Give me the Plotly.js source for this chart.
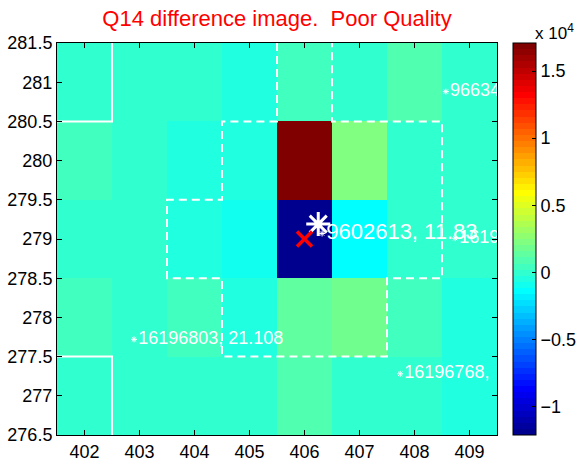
<!DOCTYPE html>
<html>
<head>
<meta charset="utf-8">
<script src="https://cdn.plot.ly/plotly-3.0.1.min.js"></script>
<style>html,body{margin:0;padding:0;background:#fff;}#chart{width:577px;height:462px;}</style>
</head>
<body>
<div id="chart"></div>
<script>
// ---- data ----
const columns = [402, 403, 404, 405, 406, 407, 408, 409];
const rows = [277, 278, 279, 280, 281];
const row277 = [-80, 40, 10, -30, 870, 90, -50, -490];
const row278 = [390, 50, 430, -480, 1350, 1790, 420, -440];
const row279 = [30, -70, -450, -930, -12130, -1390, -100, 10];
const row280 = [450, -20, -500, -520, 17090, 2260, 80, -60];
const row281 = [-40, 60, -90, -470, 410, 20, 900, -10];

const cbTickVals = [-10000, -5000, 0, 5000, 10000, 15000];
const cbTickText = ['\u22121', '\u22120.5', '0', '0.5', '1', '1.5'];

const solidX = [401.5, 402.5, 402.5, null, 401.5, 402.5, 402.5];
const solidY = [280.5, 280.5, 281.5, null, 277.5, 277.5, 276.5];

const regionX = [405.5, 405.5, 404.5, 404.5, 403.5, 403.5, 404.5, 404.5, 407.5, 407.5, 408.5, 408.5, 406.5, 406.5];
const regionY = [281.5, 280.5, 280.5, 279.5, 279.5, 278.5, 278.5, 277.5, 277.5, 278.5, 278.5, 280.5, 280.5, 281.5];

const labelX = [408.57, 408.74, 402.9, 407.74];
const labelY = [280.88, 279.01, 277.72, 277.28];
const labelText = ['96634', '16196790', '16196803, 21.108', '16196768,'];

const mainLabelX = [406.32];
const mainLabelY = [279.07];
const mainLabelText = ['9602613, 11.83'];

const targetX = [406.25];
const targetY = [279.19];

const centroidX = [406];
const centroidY = [279];

// ---- MATLAB jet(64) colormap ----
function jet64() {
  const n = 64, m = 16;
  const u = [];
  for (let i = 1; i <= m; i++) u.push(i / m);
  for (let i = 1; i <= m - 1; i++) u.push(1);
  for (let i = m; i >= 1; i--) u.push(i / m);
  const J = [];
  for (let k = 0; k < n; k++) J.push([0, 0, 0]);
  const g0 = Math.ceil(m / 2) - (n % 4 === 1 ? 1 : 0);
  for (let j = 0; j < u.length; j++) {
    const g = g0 + j + 1, r = g + m, b = g - m;
    if (r >= 1 && r <= n) J[r - 1][0] = u[j];
    if (g >= 1 && g <= n) J[g - 1][1] = u[j];
    if (b >= 1 && b <= n) J[b - 1][2] = u[j];
  }
  const cs = [];
  J.forEach((c, i) => {
    const col = 'rgb(' + c.map(v => Math.round(v * 255)).join(',') + ')';
    cs.push([i / n, col]);
    cs.push([(i + 1) / n, col]);
  });
  return cs;
}

const font = 'Liberation Sans, Arial, Helvetica, sans-serif';

const traces = [
  {
    type: 'heatmap',
    x: columns,
    y: rows,
    z: [row277, row278, row279, row280, row281],
    colorscale: jet64(),
    zsmooth: false,
    hoverinfo: 'skip',
    colorbar: {
      thickness: 23, thicknessmode: 'pixels',
      len: 1, lenmode: 'fraction',
      x: 1.0364, xanchor: 'left', y: 0.5, yanchor: 'middle',
      xpad: 0, ypad: 0,
      outlinewidth: 1, outlinecolor: '#000',
      tickmode: 'array', tickvals: cbTickVals, ticktext: cbTickText,
      ticks: 'inside', ticklen: 4, tickwidth: 1, tickcolor: '#000',
      tickfont: {family: font, size: 18, color: '#000'}
    }
  },
  {
    type: 'scatter', mode: 'lines', x: solidX, y: solidY,
    line: {color: '#fff', width: 2}, showlegend: false, hoverinfo: 'skip'
  },
  {
    type: 'scatter', mode: 'lines', x: regionX, y: regionY,
    line: {color: '#fff', width: 2, dash: '8px,5px'}, showlegend: false, hoverinfo: 'skip'
  },
  {
    type: 'scatter', mode: 'markers+text', x: labelX, y: labelY, text: labelText,
    textposition: 'middle right',
    textfont: {family: font, size: 18, color: '#fff'},
    marker: {symbol: 'asterisk-open', size: 5, line: {color: '#fff', width: 1}, color: '#fff'},
    cliponaxis: true, showlegend: false, hoverinfo: 'skip'
  },
  {
    type: 'scatter', mode: 'markers', x: targetX, y: targetY,
    marker: {symbol: 'asterisk-open', size: 20, line: {color: '#fff', width: 3}, color: '#fff'},
    cliponaxis: true, showlegend: false, hoverinfo: 'skip'
  },
  {
    type: 'scatter', mode: 'markers+text', x: mainLabelX, y: mainLabelY, text: mainLabelText,
    textposition: 'middle right',
    textfont: {family: font, size: 22, color: '#fff'},
    marker: {symbol: 'asterisk-open', size: 5, line: {color: '#fff', width: 1}, color: '#fff'},
    cliponaxis: true, showlegend: false, hoverinfo: 'skip'
  },
  {
    type: 'scatter', mode: 'markers', x: centroidX, y: centroidY,
    marker: {symbol: 'x-thin-open', size: 15, line: {color: '#ff0000', width: 3.5}, color: '#ff0000'},
    cliponaxis: true, showlegend: false, hoverinfo: 'skip'
  }
];

const layout = {
  width: 577, height: 462,
  margin: {l: 57, r: 80, t: 43, b: 27, pad: 0, autoexpand: false},
  paper_bgcolor: '#fff', plot_bgcolor: '#fff',
  font: {family: font, size: 18, color: '#000'},
  showlegend: false,
  title: {
    text: 'Q14 difference image.\u00a0 Poor Quality',
    font: {family: font, size: 22, color: '#ff0000'},
    x: 0.5, xref: 'paper', xanchor: 'center',
    y: 1 - 18 / 462, yref: 'container', yanchor: 'middle'
  },
  xaxis: {
    range: [401.5, 409.5], tickmode: 'array', tickvals: columns,
    ticks: 'inside', ticklen: 5, tickwidth: 1, tickcolor: '#000',
    showline: true, linecolor: '#000', linewidth: 1, mirror: 'ticks',
    showgrid: false, zeroline: false, automargin: false,
    tickfont: {family: font, size: 18, color: '#000'}
  },
  yaxis: {
    range: [276.5, 281.5], tickmode: 'linear', tick0: 276.5, dtick: 0.5,
    ticks: 'inside', ticklen: 5, tickwidth: 1, tickcolor: '#000',
    showline: true, linecolor: '#000', linewidth: 1, mirror: 'ticks',
    showgrid: false, zeroline: false, automargin: false,
    tickfont: {family: font, size: 18, color: '#000'}
  },
  annotations: [
    {
      text: 'x 10<sup>4</sup>', xref: 'paper', yref: 'paper',
      x: 1.081, y: 1, xanchor: 'left', yanchor: 'bottom',
      yshift: -2, showarrow: false,
      font: {family: font, size: 17, color: '#000'}
    }
  ]
};

Plotly.newPlot('chart', traces, layout, {staticPlot: true, displayModeBar: false});
</script>
</body>
</html>
